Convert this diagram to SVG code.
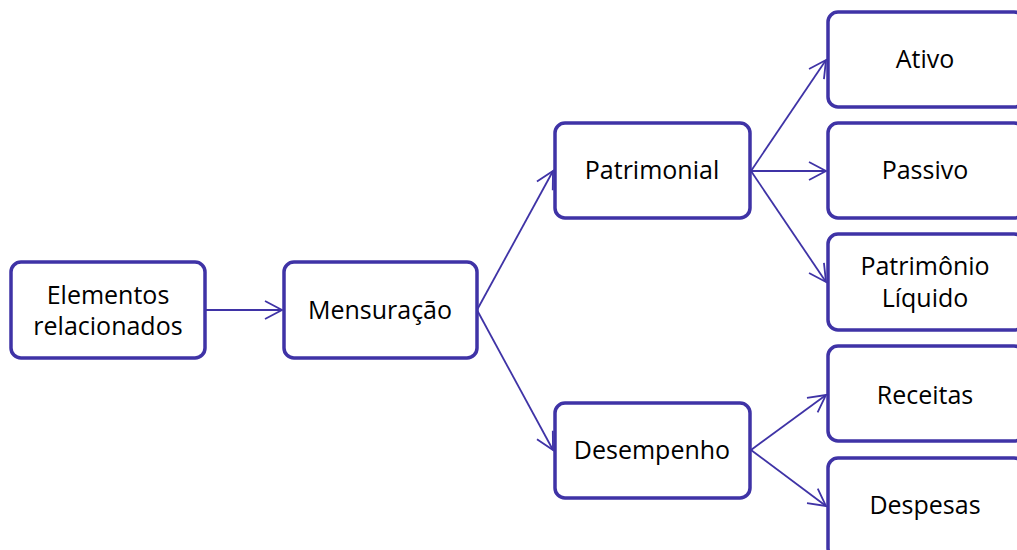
<svg xmlns="http://www.w3.org/2000/svg" width="1017" height="550" viewBox="0 0 1017 550">
<style>
.box{fill:#fff;stroke:#3F33A6;stroke-width:3.5}
.t{font-family:"Open Sans","Noto Sans",sans-serif;font-size:25px;fill:#000;text-anchor:middle}
.c{fill:none;stroke:#3F33A6;stroke-width:1.8}
</style>
<defs>
<marker id="ah" viewBox="0 0 20 20" refX="18" refY="10" markerWidth="20" markerHeight="20" markerUnits="userSpaceOnUse" orient="auto">
<path d="M1,1 L18,10 L1,19" fill="none" stroke="#3F33A6" stroke-width="1.8"/>
</marker>
</defs>
<rect width="1017" height="550" fill="#fff"/>
<g id="connectors">
<line class="c" x1="205" y1="310" x2="282" y2="310" marker-end="url(#ah)"/>
<line class="c" x1="477" y1="310" x2="553" y2="171" marker-end="url(#ah)"/>
<line class="c" x1="477" y1="310" x2="553" y2="450" marker-end="url(#ah)"/>
<line class="c" x1="751" y1="171" x2="826" y2="60" marker-end="url(#ah)"/>
<line class="c" x1="751" y1="171" x2="826" y2="171" marker-end="url(#ah)"/>
<line class="c" x1="751" y1="171" x2="826" y2="282" marker-end="url(#ah)"/>
<line class="c" x1="751" y1="450" x2="826" y2="395" marker-end="url(#ah)"/>
<line class="c" x1="751" y1="450" x2="826" y2="506" marker-end="url(#ah)"/>
</g>
<g id="n-elementos"><rect class="box" x="11" y="262" width="194" height="96" rx="10"/><text class="t" x="108" y="304">Elementos</text><text class="t" x="108" y="335">relacionados</text></g>
<g id="n-mensuracao"><rect class="box" x="284" y="262" width="193" height="96" rx="10"/><text class="t" x="380" y="319">Mensuração</text></g>
<g id="n-patrimonial"><rect class="box" x="555" y="123" width="195" height="95" rx="10"/><text class="t" x="652" y="179">Patrimonial</text></g>
<g id="n-desempenho"><rect class="box" x="555" y="403" width="195" height="95" rx="10"/><text class="t" x="652" y="459">Desempenho</text></g>
<g id="n-ativo"><rect class="box" x="828" y="12" width="196" height="95" rx="10"/><text class="t" x="925" y="68">Ativo</text></g>
<g id="n-passivo"><rect class="box" x="828" y="123" width="196" height="95" rx="10"/><text class="t" x="925" y="179">Passivo</text></g>
<g id="n-pl"><rect class="box" x="828" y="234" width="196" height="96" rx="10"/><text class="t" x="925" y="275">Patrimônio</text><text class="t" x="925" y="307">Líquido</text></g>
<g id="n-receitas"><rect class="box" x="828" y="346" width="196" height="95" rx="10"/><text class="t" x="925" y="404">Receitas</text></g>
<g id="n-despesas"><rect class="box" x="828" y="458" width="196" height="100" rx="10"/><text class="t" x="925" y="514">Despesas</text></g>
</svg>
